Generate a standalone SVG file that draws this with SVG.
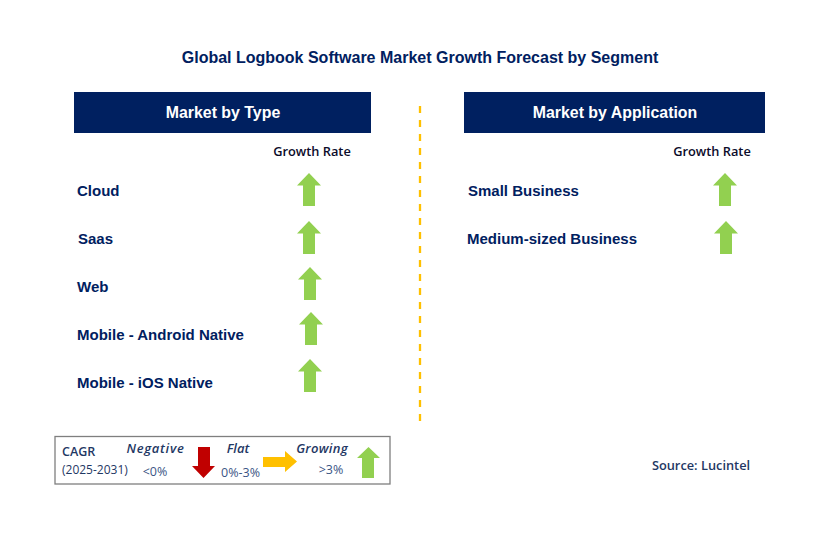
<svg xmlns="http://www.w3.org/2000/svg" width="829" height="549" viewBox="0 0 829 549">
<defs>
<polygon id="up" points="0,-16.5 12,-4 6,-4 6,16.5 -6,16.5 -6,-4 -12,-4" fill="#92d050"/>
</defs>
<style>
text{font-family:"Open Sans","Noto Sans","Liberation Sans",sans-serif}
.t{font-family:"Liberation Sans",Arial,sans-serif;font-weight:700;fill:#002060}
.h{font-family:"Liberation Sans",Arial,sans-serif;font-weight:700;fill:#fff;font-size:15.9px;text-anchor:middle}
.l{font-family:"Liberation Sans",Arial,sans-serif;font-weight:700;fill:#002060;font-size:15px}
.g{font-weight:600;font-size:12.8px;fill:#0b0b2a;text-anchor:middle}
.k{font-style:italic;font-weight:600;font-size:13px;fill:#1f3864;text-anchor:middle}
.p{font-size:12.5px;fill:#3b5585;text-anchor:middle}
</style>
<rect width="829" height="549" fill="#fff"/>
<text class="t" x="420" y="63" font-size="16" text-anchor="middle">Global Logbook Software Market Growth Forecast by Segment</text>
<g id="connectors"><line x1="420" y1="106" x2="420" y2="423" stroke="#ffc000" stroke-width="2.3" stroke-dasharray="7 7"/></g>
<g id="type-panel">
<rect x="74" y="92" width="297" height="41" fill="#002060"/>
<text class="h" x="223" y="118">Market by Type</text>
<text class="g" x="312" y="156">Growth Rate</text>
</g>
<g id="app-panel">
<rect x="464" y="92" width="301" height="41" fill="#002060"/>
<text class="h" x="615" y="118">Market by Application</text>
<text class="g" x="712" y="156">Growth Rate</text>
</g>
<g id="cloud"><text class="l" x="77" y="196">Cloud</text><use href="#up" x="309" y="189.5"/></g>
<g id="saas"><text class="l" x="78" y="244">Saas</text><use href="#up" x="309" y="237.5"/></g>
<g id="web"><text class="l" x="77" y="292">Web</text><use href="#up" x="310" y="283.5"/></g>
<g id="android"><text class="l" x="77" y="340">Mobile - Android Native</text><use href="#up" x="311" y="328.5"/></g>
<g id="ios"><text class="l" x="77" y="388">Mobile - iOS Native</text><use href="#up" x="310" y="375.5"/></g>
<g id="small"><text class="l" x="468" y="196">Small Business</text><use href="#up" x="725" y="189.5"/></g>
<g id="medium"><text class="l" x="467" y="244">Medium-sized Business</text><use href="#up" x="726" y="237.5"/></g>
<g id="legend">
<rect x="55" y="436.5" width="335" height="47.5" fill="#fff" stroke="#7f7f7f" stroke-width="1.3"/>
<text x="62" y="456" font-size="12.5" font-weight="600" fill="#1f3864">CAGR</text>
<text x="62" y="474" font-size="12" fill="#1f3864">(2025-2031)</text>
<text class="k" x="155.500" y="453" letter-spacing="0.7">Negative</text>
<text class="p" x="155" y="476">&lt;0%</text>
<polygon points="198,447 210,447 210,466 215,466 203.500,478 192,466 198,466" fill="#c00000"/>
<text class="k" x="238" y="453">Flat</text>
<text class="p" x="240.500" y="477">0%-3%</text>
<polygon points="263,457 285,457 285,451 297,461.500 285,472 285,467 263,467" fill="#ffc000"/>
<text class="k" x="322" y="453" letter-spacing="0.3">Growing</text>
<text class="p" x="331" y="474">&gt;3%</text>
<polygon points="368.500,447 380,458 374,458 374,478 362,478 362,458 357,458" fill="#92d050"/>
</g>
<text x="701" y="470" font-size="12.8" font-weight="600" fill="#1f3864" text-anchor="middle">Source: Lucintel</text>
</svg>
